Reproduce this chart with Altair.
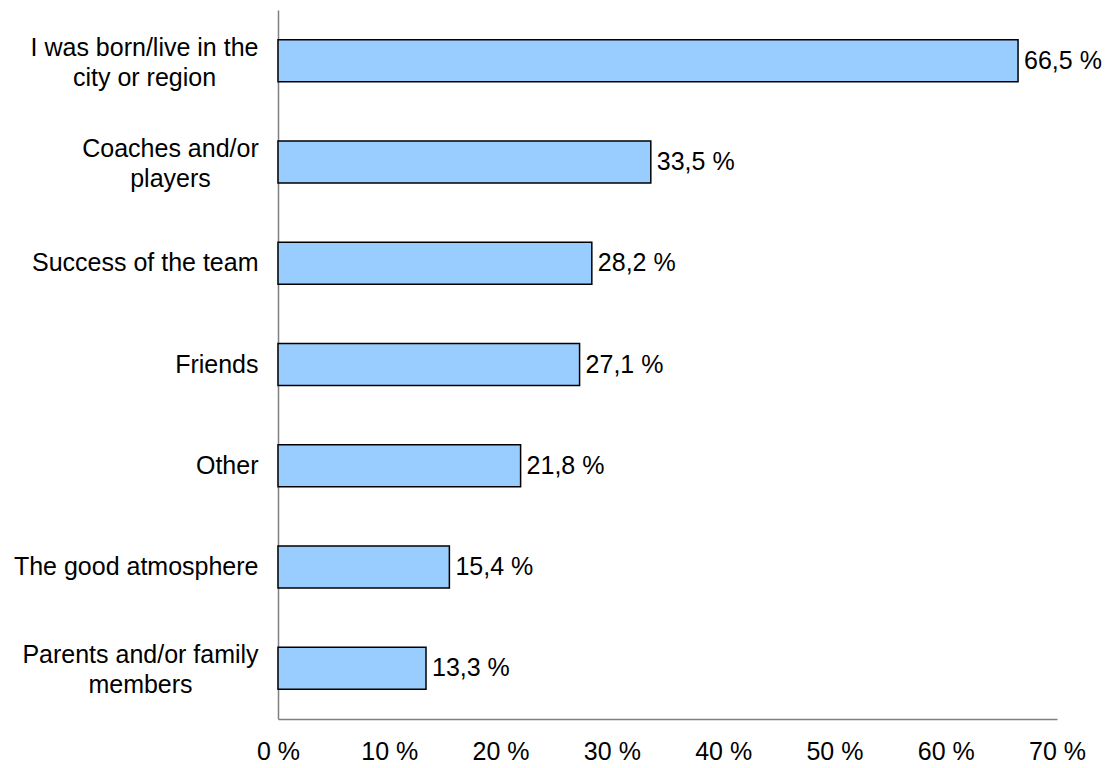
import altair as alt
import pandas as pd

categories = [
    "I was born/live in the\ncity or region",
    "Coaches and/or\nplayers",
    "Success of the team",
    "Friends",
    "Other",
    "The good atmosphere",
    "Parents and/or family\nmembers",
]
values = [66.5, 33.5, 28.2, 27.1, 21.8, 15.4, 13.3]
x_ticks = [0, 10, 20, 30, 40, 50, 60, 70]

df = pd.DataFrame({"cat": categories, "val": values})

FONT = "Liberation Sans"
MULTI = "indexof(datum.value, '\\n') >= 0"

y_enc = alt.Y(
    "cat:N",
    sort=categories,
    scale=alt.Scale(paddingInner=0.585, paddingOuter=0.2925),
    axis=alt.Axis(
        title=None,
        ticks=False,
        domainColor="#808080",
        domainWidth=1.5,
        labelFont=FONT,
        labelFontSize=25,
        labelColor="#000000",
        labelAlign={"condition": {"test": MULTI, "value": "center"}, "value": "right"},
        labelPadding={
            "condition": [
                {"test": "indexof(datum.value, 'I was born') >= 0", "value": 134},
                {"test": "indexof(datum.value, 'Coaches') >= 0", "value": 108},
                {"test": "indexof(datum.value, 'Parents') >= 0", "value": 138},
            ],
            "value": 20,
        },
        labelLineHeight=30,
        labelLimit=400,
        labelOffset={"condition": {"test": MULTI, "value": -13}, "value": 0},
        labelExpr="split(datum.label, '\\n')",
    ),
)

x_enc = alt.X(
    "val:Q",
    scale=alt.Scale(domain=[0, 70], nice=False),
    axis=alt.Axis(
        title=None,
        values=x_ticks,
        ticks=False,
        grid=False,
        domainColor="#808080",
        domainWidth=1.5,
        labelFont=FONT,
        labelFontSize=25,
        labelColor="#000000",
        labelPadding=20,
        labelExpr="datum.value + ' %'",
        labelFlush=False,
    ),
)

bars = alt.Chart(df).mark_bar(
    color="#99CCFF", stroke="#000000", strokeWidth=1.5
).encode(x=x_enc, y=y_enc)

labels = alt.Chart(df).transform_calculate(
    lab="replace(format(datum.val, '.1f'), '.', ',') + ' %'"
).mark_text(
    align="left", baseline="middle", dx=6, font=FONT, fontSize=25, color="#000000"
).encode(x="val:Q", y=alt.Y("cat:N", sort=categories), text="lab:N")

chart = (
    alt.layer(bars, labels)
    .properties(
        width=779,
        height=709,
        background="#ffffff",
        autosize=alt.AutoSizeParams(type="none"),
        padding={"left": 278, "top": 10, "right": 59, "bottom": 49},
    )
    .configure_view(stroke=None, strokeWidth=0)
)

chart.save("out.html", embed_options={"renderer": "svg", "actions": False})
